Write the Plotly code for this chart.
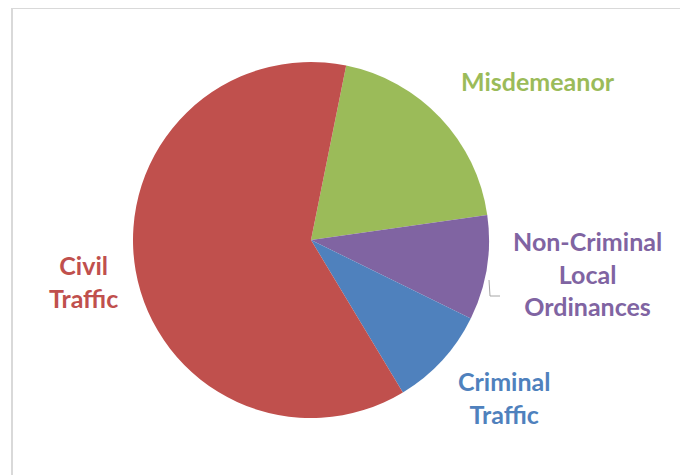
import plotly.graph_objects as go

W, H = 688, 475
OFF = 8  # page body margin

categories = ["Misdemeanor", "Non-Criminal Local Ordinances", "Criminal Traffic", "Civil Traffic"]
values = [19.6, 9.5, 9.1, 61.8]
colors = ["#9BBB59", "#8064A2", "#4F81BD", "#C0504D"]
label_texts = ["Misdemeanor", "Non-Criminal<br>Local<br>Ordinances", "Criminal<br>Traffic", "Civil<br>Traffic"]
label_px = [(538, 81), (587, 273), (504, 397), (83, 281)]


def px(x):
    return (x - OFF) / W


def py(y):
    return 1 - (y - OFF) / H


cx, cy, r = 311, 240, 178

fig = go.Figure(go.Pie(
    labels=categories, values=values, sort=False, direction="clockwise", rotation=11.4,
    marker=dict(colors=colors, line=dict(color="white", width=0)),
    textinfo="none", hoverinfo="label+percent", showlegend=False,
    domain=dict(x=[px(cx - r), px(cx + r)], y=[py(cy + r), py(cy - r)]),
))

for txt, (lx, ly), col in zip(label_texts, label_px, colors):
    fig.add_annotation(x=px(lx), y=py(ly), xref="paper", yref="paper", text="<b>" + txt + "</b>",
                       showarrow=False, font=dict(family="Lato", size=25, color=col),
                       align="center", xanchor="center", yanchor="middle")

# leader line
fig.add_shape(type="path", xref="paper", yref="paper",
              path=f"M {px(489)} {py(280)} L {px(490)} {py(296)} L {px(500)} {py(296)}",
              line=dict(color="#A6A6A6", width=1))

# chart border
fig.add_shape(type="rect", xref="paper", yref="paper", x0=px(12), x1=px(683), y0=-0.05, y1=py(8),
              line=dict(color="#D9D9D9", width=2))

fig.update_layout(width=W, height=H, margin=dict(l=0, r=0, t=0, b=0),
                  paper_bgcolor="white", plot_bgcolor="white")
fig.write_html("out.html")
